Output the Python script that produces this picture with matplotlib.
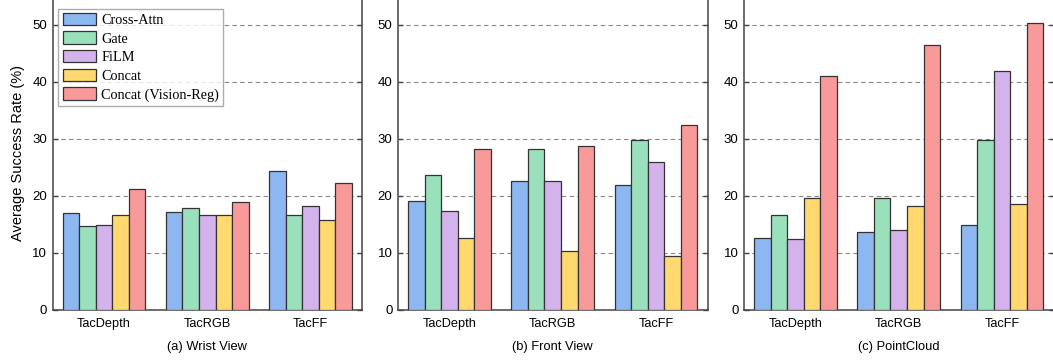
import matplotlib
matplotlib.use("Agg")
import matplotlib.pyplot as plt
import numpy as np

categories = ["TacDepth", "TacRGB", "TacFF"]
methods = ["Cross-Attn", "Gate", "FiLM", "Concat", "Concat (Vision-Reg)"]
colors = ["#8DB7F0", "#9BE0BC", "#D4B3EC", "#FFD970", "#F89A9A"]

# success rates (%) per method, ordered as categories
wrist_cross_attn = [17.0, 17.2, 24.4]
wrist_gate = [14.7, 17.9, 16.7]
wrist_film = [14.9, 16.7, 18.2]
wrist_concat = [16.7, 16.7, 15.7]
wrist_concat_vreg = [21.2, 18.9, 22.2]

front_cross_attn = [19.1, 22.7, 21.9]
front_gate = [23.7, 28.2, 29.8]
front_film = [17.4, 22.7, 25.9]
front_concat = [12.7, 10.4, 9.4]
front_concat_vreg = [28.2, 28.7, 32.5]

pc_cross_attn = [12.7, 13.7, 14.9]
pc_gate = [16.7, 19.7, 29.8]
pc_film = [12.5, 14.0, 42.0]
pc_concat = [19.7, 18.2, 18.6]
pc_concat_vreg = [41.0, 46.5, 50.3]

panels = [
    ("(a) Wrist View", [wrist_cross_attn, wrist_gate, wrist_film, wrist_concat, wrist_concat_vreg]),
    ("(b) Front View", [front_cross_attn, front_gate, front_film, front_concat, front_concat_vreg]),
    ("(c) PointCloud", [pc_cross_attn, pc_gate, pc_film, pc_concat, pc_concat_vreg]),
]

plt.rcParams["font.family"] = ["Liberation Sans", "DejaVu Sans"]

fig = plt.figure(figsize=(10.53, 3.62), dpi=100)
lefts = [52.5, 398, 744]
ax_w = 309.5
bottom = 310
W, H = 1053, 362

bar_w = 0.16
x = np.arange(len(categories))
edge = "#333333"

axes = []
for (title, series), lpx in zip(panels, lefts):
    ax = fig.add_axes([lpx / W, 1 - bottom / H, ax_w / W, bottom / H + 0.01])
    for i, (vals, c, name) in enumerate(zip(series, colors, methods)):
        ax.bar(x + (i - 2) * bar_w, vals, bar_w, color=c, edgecolor=edge,
               linewidth=0.9, label=name, zorder=3)
    ax.set_xlim(-0.5, 2.5)
    ax.set_ylim(0, 55)
    ax.set_yticks([0, 10, 20, 30, 40, 50])
    ax.set_xticks(x)
    ax.set_xticklabels(categories)
    ax.yaxis.grid(True, linestyle=(0, (4, 3)), color="#888888", linewidth=0.8, zorder=0)
    ax.set_axisbelow(True)
    ax.tick_params(axis="y", direction="in", length=3.5, width=1, color="#444444",
                   right=True, labelsize=9.5, pad=4)
    ax.tick_params(axis="x", length=0, labelsize=9.2, pad=6)
    for s in ax.spines.values():
        s.set_color("#444444")
        s.set_linewidth(1.1)
    ax.set_xlabel(title, fontsize=9.3, labelpad=8)
    axes.append(ax)

axes[0].set_ylabel("Average Success Rate (%)", fontsize=10.5, labelpad=5)

leg = axes[0].legend(loc="upper left", bbox_to_anchor=(0.005, 0.975),
                     prop={"family": ["Liberation Serif"], "size": 10.3},
                     frameon=True, fancybox=False, edgecolor="#999999",
                     handlelength=2.3, handleheight=0.95, labelspacing=0.32,
                     handletextpad=0.4, borderpad=0.3, borderaxespad=0.3)
leg.get_frame().set_linewidth(1.0)
leg.set_zorder(5)

fig.savefig("out.png", dpi=100)
